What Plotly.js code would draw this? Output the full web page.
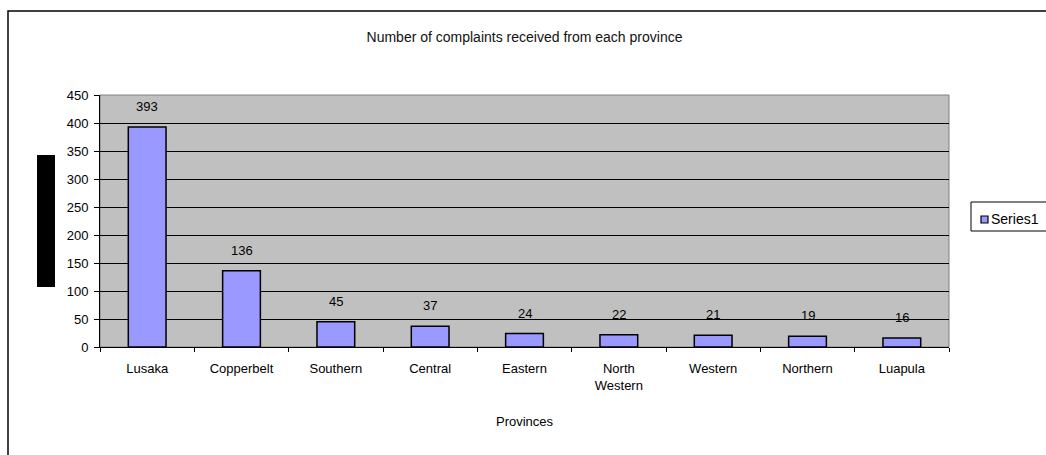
<!DOCTYPE html>
<html>
<head>
<meta charset="utf-8">
<script src="https://cdn.plot.ly/plotly-3.0.1.min.js"></script>
<style>html,body{margin:0;padding:0;background:#fff;}#chart{width:1046px;height:455px;}</style>
</head>
<body>
<div id="chart"></div>
<script>
const provinces = ["Lusaka", "Copperbelt", "Southern", "Central", "Eastern", "North<br>Western", "Western", "Northern", "Luapula"];
const complaints = [393, 136, 45, 37, 24, 22, 21, 19, 16];
const yTicks = [0, 50, 100, 150, 200, 250, 300, 350, 400, 450];
const seriesName = "Series1";

const font = {family: "Liberation Sans, Arial, sans-serif", size: 13, color: "#000"};
const barColor = "#9999FF";

const trace = {
  type: "bar",
  name: seriesName,
  x: provinces,
  y: complaints,
  marker: {color: barColor, line: {color: "#000", width: 1.5}},
  hoverinfo: "x+y"
};

// pixel -> paper helpers (plot area spans x 100..949, y 95..347)
const px = v => (v - 100) / 849;
const py = v => (347 - v) / 252;

const labels = provinces.map((p, i) => ({
  x: p, y: complaints[i], xref: "x", yref: "y",
  text: String(complaints[i]), showarrow: false,
  yanchor: "bottom", yshift: 11, font: font
}));

labels.push({
  x: 0.5, y: py(421), xref: "paper", yref: "paper",
  text: "Provinces", showarrow: false, font: font, yanchor: "middle"
});

// legend text
labels.push({
  x: px(989), y: py(219), xref: "paper", yref: "paper",
  text: seriesName, showarrow: false, font: {family: font.family, size: 14, color: "#000"},
  xanchor: "left", yanchor: "middle"
});

const layout = {
  width: 1046, height: 455,
  margin: {l: 100, r: 97, t: 95, b: 108, autoexpand: false},
  paper_bgcolor: "#fff",
  plot_bgcolor: "#C0C0C0",
  font: font,
  bargap: 0.6,
  showlegend: false,
  title: {text: "Number of complaints received from each province", font: {family: font.family, size: 14, color: "#111"},
          x: 0.5, xref: "paper", y: 1 - 37/455, yref: "container", yanchor: "middle"},
  xaxis: {
    type: "category",
    tickson: "boundaries",
    ticks: "outside", ticklen: 4, tickcolor: "#000",
    ticklabelstandoff: 9,
    showgrid: false,
    showline: true, linecolor: "#000", linewidth: 1,
    tickfont: font, zeroline: false
  },
  yaxis: {
    range: [0, 450],
    tickvals: yTicks,
    ticks: "outside", ticklen: 5, tickcolor: "#000",
    ticklabelstandoff: 3,
    showgrid: true, gridcolor: "#000", gridwidth: 1,
    showline: true, linecolor: "#000", linewidth: 1,
    zeroline: false, tickfont: font
  },
  annotations: labels,
  shapes: [
    {type: "rect", xref: "paper", yref: "paper", x0: 0, x1: 1, y0: 0, y1: 1,
     line: {color: "#808080", width: 1}, layer: "below"},
    {type: "rect", xref: "paper", yref: "paper",
     x0: px(37), x1: px(55), y0: py(287), y1: py(155),
     fillcolor: "#000", line: {width: 0}},
    {type: "rect", xref: "paper", yref: "paper",
     x0: px(8), x1: px(1060), y0: py(470), y1: py(11),
     line: {color: "#000", width: 1.5}, fillcolor: "rgba(0,0,0,0)"},
    // legend box
    {type: "rect", xref: "paper", yref: "paper",
     x0: px(971), x1: px(1060), y0: py(231), y1: py(202),
     line: {color: "#000", width: 1}, fillcolor: "#fff"},
    // legend swatch
    {type: "rect", xref: "paper", yref: "paper",
     x0: px(981), x1: px(988), y0: py(223), y1: py(216),
     line: {color: "#000", width: 1.2}, fillcolor: barColor}
  ]
};

Plotly.newPlot("chart", [trace], layout, {displayModeBar: false, staticPlot: true});
</script>
</body>
</html>
